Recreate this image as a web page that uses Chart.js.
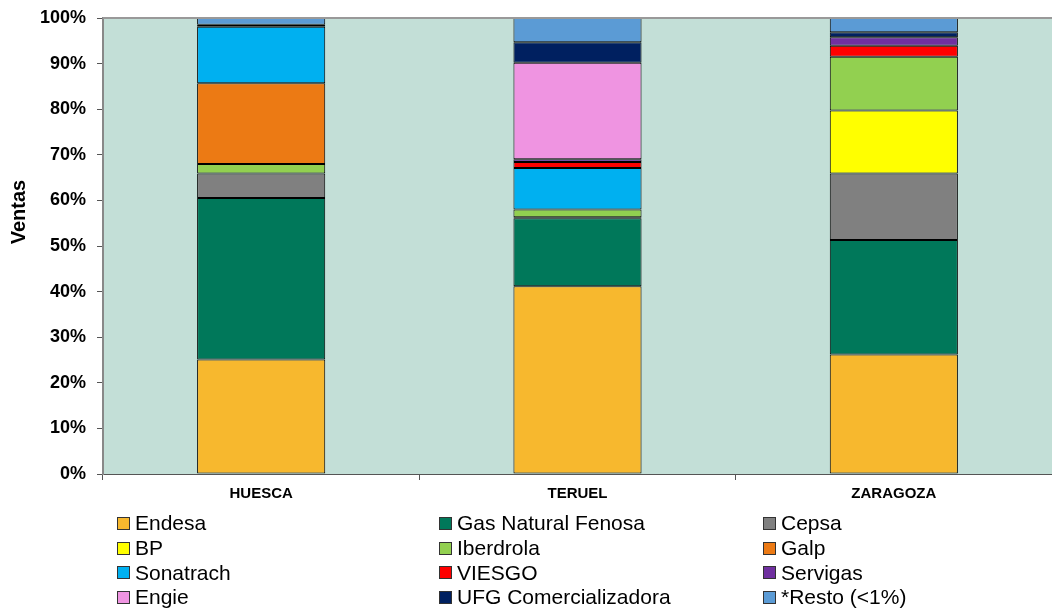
<!DOCTYPE html>
<html>
  <head>
    <script src="https://cdn.jsdelivr.net/npm/chart.js"></script>
    <style>
      body { margin: 0; background: #fff; }
      #wrap { position: relative; width: 1052px; height: 612px; }
      #legend {
        position: absolute; left: 117px; top: 511px;
        display: grid; grid-template-columns: 322px 324px auto;
        grid-auto-rows: 24.7px;
        font-family: "Liberation Sans", Arial, sans-serif; font-size: 21px; color: #000;
      }
      #legend div { display: flex; align-items: center; white-space: nowrap; }
      #legend span.box {
        display: inline-block; width: 11px; height: 11px; margin-right: 5px;
        border: 1px solid #333;
      }
    </style>
  </head>

  <body onload="build_chart()">
    <div id="wrap">
      <canvas id="chart" width="1052" height="612"></canvas>
      <div id="legend"></div>
    </div>
  </body>

  <script>
    var categories = ["HUESCA", "TERUEL", "ZARAGOZA"];
    var yTicks = [0, 10, 20, 30, 40, 50, 60, 70, 80, 90, 100];

    // % of sales per company, per province
    var endesa     = [25.1, 41.2, 26.2];
    var gasNatural = [35.4, 14.9, 25.1];
    var cepsa      = [5.4, 0.2, 14.6];
    var bp         = [null, null, 13.8];
    var iberdrola  = [2.1, 1.7, 11.8];
    var galp       = [17.7, null, null];
    var sonatrach  = [12.4, 9.1, null];
    var viesgo     = [null, 1.3, 2.4];
    var servigas   = [null, 0.6, 1.9];
    var engie      = [null, 21.2, null];
    var ufg        = [0.4, 4.5, 1.1];
    var resto      = [1.5, 5.3, 3.1];

    var names = ["Endesa", "Gas Natural Fenosa", "Cepsa", "BP", "Iberdrola", "Galp",
                 "Sonatrach", "VIESGO", "Servigas", "Engie", "UFG Comercializadora", "*Resto (<1%)"];
    var series = [endesa, gasNatural, cepsa, bp, iberdrola, galp,
                  sonatrach, viesgo, servigas, engie, ufg, resto];
    var colour_list = ["#F7B82E", "#00785A", "#808080", "#FFFF00", "#92D050", "#EC7A14",
                       "#00B0F0", "#FF0000", "#7030A0", "#EF94E1", "#002060", "#5B9BD5"];

    function build_chart() {
      var sets = [];
      for (let i = 0; i < names.length; i++) {
        sets.push({
          label: names[i],
          data: series[i],
          backgroundColor: colour_list[i],
          borderColor: "#000",
          borderWidth: 1,
          borderSkipped: false,
          barPercentage: 0.405,
          categoryPercentage: 1,
        });
      }

      const plotBg = {
        id: "plotBg",
        beforeDraw(chart) {
          const a = chart.chartArea, c = chart.ctx;
          c.save();
          c.fillStyle = "#C3DFD7";
          c.fillRect(a.left, a.top, a.right - a.left, a.bottom - a.top);
          c.restore();
        },
        afterDraw(chart) {
          const a = chart.chartArea, c = chart.ctx;
          c.save();
          c.strokeStyle = "#999";
          c.lineWidth = 2;
          c.beginPath();
          c.moveTo(a.left, a.top);
          c.lineTo(a.right, a.top);
          c.stroke();
          // y title
          c.translate(19, 212);
          c.rotate(-Math.PI / 2);
          c.fillStyle = "#000";
          c.font = "bold 20px 'Liberation Sans', Arial";
          c.textAlign = "center";
          c.textBaseline = "middle";
          c.fillText("Ventas", 0, 0);
          c.restore();
        },
      };

      const ctx = document.getElementById("chart").getContext("2d");
      const chart = new Chart(ctx, {
        type: "bar",
        data: { labels: categories, datasets: sets },
        plugins: [plotBg],
        options: {
          responsive: false,
          animation: false,
          layout: { padding: { top: 18, right: 0, bottom: 0, left: 0 } },
          plugins: { legend: { display: false }, tooltip: { enabled: false } },
          scales: {
            x: {
              stacked: true,
              afterFit: (s) => { s.height = 138; },
              border: { color: "#555", width: 1 },
              grid: { offset: true, drawOnChartArea: false, tickLength: 6, color: "#555" },
              ticks: {
                color: "#000", padding: 5,
                font: { family: "'Liberation Sans', Arial", size: 15, weight: "bold" },
              },
            },
            y: {
              stacked: true,
              min: 0, max: 100,
              afterFit: (s) => { s.width = 103; },
              afterBuildTicks: (s) => { s.ticks = yTicks.map((v) => ({ value: v })); },
              border: { color: "#888", width: 2 },
              grid: { drawOnChartArea: false, tickLength: 6, color: "#555" },
              ticks: {
                color: "#000", padding: 11,
                font: { family: "'Liberation Sans', Arial", size: 18, weight: "bold", lineHeight: 0.6 },
                callback: (v) => v + "%",
              },
            },
          },
        },
      });

      var leg = document.getElementById("legend");
      chart.data.datasets.forEach((d) => {
        var item = document.createElement("div");
        item.innerHTML = '<span class="box" style="background:' + d.backgroundColor + '"></span>' + d.label.replace("<", "&lt;");
        leg.appendChild(item);
      });
    }
  </script>
</html>
